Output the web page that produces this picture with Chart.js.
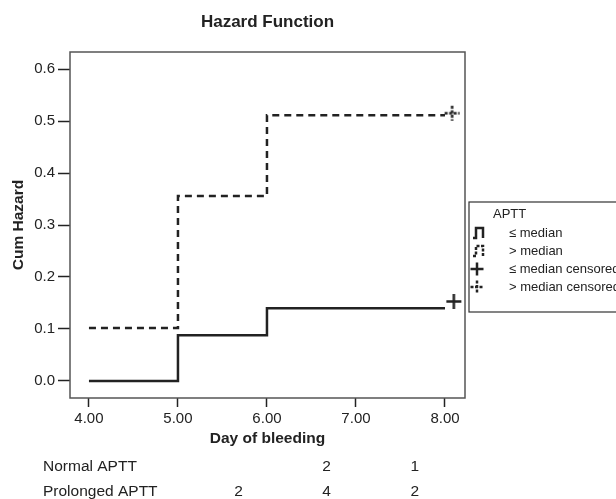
<!DOCTYPE html>
<html>
<head>
<meta charset="utf-8">
<title>Hazard Function</title>
<script src="https://cdn.jsdelivr.net/npm/chart.js@4.4.0/dist/chart.umd.min.js"></script>
<style>
    html, body { margin: 0; padding: 0; background: #fff; }
    .chart-box { width: 616px; height: 499px; position: relative; }
</style>
</head>
<body>
<div class="chart-box"><canvas id="hazard-chart"></canvas></div>
<script>
// Data
const normalDays = [4, 5, 6, 8];
const normalHazard = [0, 0.088, 0.14, 0.14];
const prolongedDays = [4, 5, 6, 8];
const prolongedHazard = [0.102, 0.356, 0.511, 0.511];
const normalCensorDays = [8.1];
const normalCensorHazard = [0.153];
const prolongedCensorDays = [8.08];
const prolongedCensorHazard = [0.515];

const xTicks = [4, 5, 6, 7, 8];
const yTicks = [0, 0.1, 0.2, 0.3, 0.4, 0.5, 0.6];

// Numbers at risk under the axis
const tableRows = ['Normal APTT', 'Prolonged APTT'];
const tableDays = [5.68, 6.67, 7.66];
const normalAtRisk = ['', '2', '1'];
const prolongedAtRisk = ['2', '4', '2'];

const legendTitle = 'APTT';
const legendLabels = ['\u2264 median', '> median', '\u2264 median censored', '> median censored'];

document.addEventListener('DOMContentLoaded', () => {
    const FONT = "'Liberation Sans', Arial, Helvetica, sans-serif";
    const INK = '#222';

    const toPoints = (xs, ys) => xs.map((x, i) => ({ x: x, y: ys[i] }));

    // Draw a plus sign, solid or dotted
    function drawPlus(g, cx, cy, r, dotted) {
        g.save();
        g.strokeStyle = INK;
        g.lineWidth = 2.5;
        if (dotted) g.setLineDash([3, 1.5]);
        g.beginPath();
        g.moveTo(cx - r, cy); g.lineTo(cx + r, cy);
        g.moveTo(cx, cy - r); g.lineTo(cx, cy + r);
        g.stroke();
        g.restore();
    }

    function plusImage(dotted) {
        const c = document.createElement('canvas');
        c.width = 17; c.height = 17;
        drawPlus(c.getContext('2d'), 8.5, 8.5, 7.5, dotted);
        return c;
    }

    // Step glyph for the legend
    function drawStep(g, cx, cy, dotted) {
        g.save();
        g.strokeStyle = INK;
        g.lineWidth = 2.5;
        g.lineJoin = 'miter';
        if (dotted) g.setLineDash([3, 1.5]);
        g.beginPath();
        g.moveTo(cx - 5, cy + 5);
        g.lineTo(cx - 2, cy + 5);
        g.lineTo(cx - 2, cy - 5);
        g.lineTo(cx + 5, cy - 5);
        g.lineTo(cx + 5, cy + 5);
        g.stroke();
        g.restore();
    }

    const decorPlugin = {
        id: 'decor',
        afterDraw(chart) {
            const { ctx, chartArea: a, scales: { x } } = chart;
            ctx.save();

            // plot frame
            ctx.strokeStyle = '#555';
            ctx.lineWidth = 1.5;
            ctx.strokeRect(a.left, a.top, a.right - a.left, a.bottom - a.top);

            // title
            ctx.fillStyle = INK;
            ctx.font = `bold 17px ${FONT}`;
            ctx.textAlign = 'center';
            ctx.textBaseline = 'middle';
            ctx.fillText('Hazard Function', (a.left + a.right) / 2, 22);

            // at-risk table
            ctx.font = `15.5px ${FONT}`;
            ctx.textAlign = 'left';
            ctx.fillText(tableRows[0], 43, 467);
            ctx.fillText(tableRows[1], 43, 492);
            ctx.textAlign = 'center';
            tableDays.forEach((d, i) => {
                const px = x.getPixelForValue(d);
                ctx.fillText(normalAtRisk[i], px, 467);
                ctx.fillText(prolongedAtRisk[i], px, 492);
            });

            // legend
            ctx.strokeStyle = '#333';
            ctx.lineWidth = 1.2;
            ctx.strokeRect(469, 202, 160, 110);
            ctx.font = `13px ${FONT}`;
            ctx.textAlign = 'left';
            ctx.fillText(legendTitle, 493, 214);
            legendLabels.forEach((label, i) => {
                const cy = 233 + i * 18;
                if (i < 2) drawStep(ctx, 478, cy, i === 1);
                else drawPlus(ctx, 477, cy, 6.5, i === 3);
                ctx.fillText(label, 509, cy);
            });

            ctx.restore();
        }
    };

    const ctx = document.getElementById('hazard-chart').getContext('2d');
    new Chart(ctx, {
        type: 'line',
        data: {
            datasets: [
                {
                    label: legendLabels[0],
                    data: toPoints(normalDays, normalHazard),
                    stepped: 'before',
                    borderColor: INK,
                    borderWidth: 2.5,
                    borderJoinStyle: 'miter',
                    pointRadius: 0,
                    fill: false
                },
                {
                    label: legendLabels[1],
                    data: toPoints(prolongedDays, prolongedHazard),
                    stepped: 'before',
                    borderColor: INK,
                    borderWidth: 2.5,
                    borderDash: [7, 5],
                    borderJoinStyle: 'miter',
                    pointRadius: 0,
                    fill: false
                },
                {
                    label: legendLabels[2],
                    data: toPoints(normalCensorDays, normalCensorHazard),
                    showLine: false,
                    pointStyle: plusImage(false),
                    pointRadius: 8
                },
                {
                    label: legendLabels[3],
                    data: toPoints(prolongedCensorDays, prolongedCensorHazard),
                    showLine: false,
                    pointStyle: plusImage(true),
                    pointRadius: 8
                }
            ]
        },
        options: {
            responsive: true,
            maintainAspectRatio: false,
            animation: false,
            layout: { padding: { left: 0, top: 52, right: 151, bottom: 0 } },
            plugins: {
                legend: { display: false },
                tooltip: { enabled: false }
            },
            scales: {
                x: {
                    type: 'linear',
                    min: 3.787,
                    max: 8.225,
                    afterBuildTicks: s => { s.ticks = xTicks.map(v => ({ value: v })); },
                    afterFit: s => { s.height = 101; },
                    border: { display: false },
                    grid: { drawOnChartArea: false, drawTicks: true, tickLength: 9, tickColor: INK, tickWidth: 1.5 },
                    ticks: { color: INK, font: { family: FONT, size: 15 }, padding: 3, maxRotation: 0, callback: v => Number(v).toFixed(2) },
                    title: { display: true, text: 'Day of bleeding', color: INK, font: { family: FONT, size: 15.5, weight: 'bold' }, padding: { top: 0, bottom: 51 } }
                },
                y: {
                    type: 'linear',
                    min: -0.0327,
                    max: 0.6327,
                    afterBuildTicks: s => { s.ticks = yTicks.map(v => ({ value: v })); },
                    afterFit: s => { s.width = 70; },
                    border: { display: false },
                    grid: { drawOnChartArea: false, drawTicks: true, tickLength: 12, tickColor: INK, tickWidth: 1.5 },
                    ticks: { color: INK, font: { family: FONT, size: 15 }, padding: 3, callback: v => Number(v).toFixed(1) },
                    title: { display: true, text: 'Cum Hazard', color: INK, font: { family: FONT, size: 15.5, weight: 'bold' }, padding: { top: 9, bottom: 0 } }
                }
            }
        },
        plugins: [decorPlugin]
    });
});
</script>
</body>
</html>
